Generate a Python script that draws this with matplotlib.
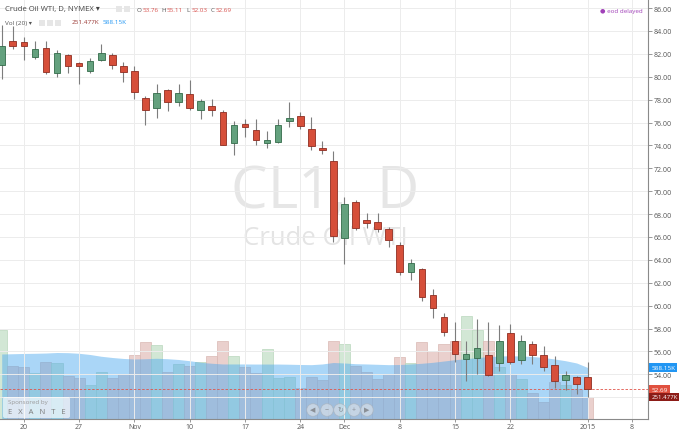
import matplotlib
matplotlib.use('Agg')
import matplotlib.pyplot as plt
from matplotlib.patches import FancyBboxPatch, Circle, Rectangle
from matplotlib.transforms import Affine2D, blended_transform_factory
import numpy as np
import pandas as pd

plt.rcParams['font.family'] = ['Open Sans', 'DejaVu Sans']

# trading days on the chart (Oct 16 2014 .. Jan 8 2015), exchange holidays removed
days = pd.bdate_range('2014-10-16', '2015-01-08')
days = days.drop(pd.to_datetime(['2014-11-27', '2014-12-25', '2015-01-01']))

# daily OHLC, Oct 16 2014 .. Jan 2 2015
opens = [81.0, 83.1, 83.05, 81.75, 82.5, 80.3, 81.9, 81.2, 80.5, 81.5,
         81.9, 80.95, 80.5, 78.15, 77.25, 78.85, 77.75, 78.45, 77.1, 77.4,
         76.9, 74.25, 75.85, 75.35, 74.2, 74.3, 76.15, 76.55, 75.45, 73.75,
         72.6, 65.9, 69.1, 67.5, 67.3, 66.7, 65.3, 62.9, 63.2, 60.95,
         59.05, 56.95, 55.3, 55.4, 55.7, 54.95, 57.6, 55.25, 56.65, 55.7,
         54.85, 53.55, 53.75, 53.76]
highs = [84.5, 84.45, 83.45, 83.15, 83.1, 82.3, 81.95, 81.3, 81.6, 82.85,
         82.05, 81.25, 80.95, 78.35, 79.35, 78.95, 79.35, 79.7, 78.05, 78.05,
         77.1, 76.15, 76.3, 76.3, 75.3, 76.3, 77.75, 76.9, 76.45, 74.35,
         73.5, 69.45, 69.2, 68.1, 68.1, 66.85, 65.55, 64.1, 63.3, 61.5,
         59.4, 58.55, 56.95, 58.85, 58.55, 58.3, 58.4, 57.45, 56.95, 56.45,
         55.6, 54.25, 53.9, 55.11]
lows = [79.8, 82.4, 81.5, 81.55, 80.2, 80.0, 80.3, 79.4, 80.3, 81.4,
        80.65, 79.5, 78.05, 75.8, 76.4, 77.0, 77.4, 77.1, 76.35, 76.6,
        74.0, 73.2, 74.7, 74.05, 73.8, 74.2, 75.6, 75.45, 73.6, 73.25,
        65.6, 63.65, 66.6, 66.75, 66.45, 65.1, 62.7, 62.2, 60.4, 58.9,
        57.35, 55.05, 53.45, 54.05, 53.9, 54.3, 54.9, 54.9, 54.9, 54.3,
        52.85, 52.6, 52.3, 52.03]
closes = [82.7, 82.7, 82.65, 82.4, 80.45, 82.05, 80.9, 80.9, 81.35, 82.1,
          81.05, 80.45, 78.7, 77.1, 78.6, 77.8, 78.6, 77.25, 77.9, 77.1,
          74.05, 75.8, 75.6, 74.5, 74.45, 75.8, 76.4, 75.7, 73.95, 73.6,
          66.05, 68.9, 66.75, 67.25, 66.7, 65.75, 62.95, 63.7, 60.8, 59.8,
          57.7, 55.75, 55.8, 56.3, 53.95, 56.95, 55.1, 56.95, 55.7, 54.6,
          53.45, 53.95, 53.15, 52.69]

# volume and its 20-day average, thousands of contracts
volumes = [1021, 602, 591, 526, 648, 637, 495, 465, 389, 541,
           465, 514, 731, 877, 846, 534, 629, 609, 648, 717,
           888, 717, 591, 526, 800, 465, 477, 351, 477, 446,
           888, 857, 602, 541, 457, 514, 705, 640, 877, 774,
           857, 895, 1181, 1021, 895, 598, 514, 457, 297, 191,
           419, 389, 343, 251.477]
vol_ma = [743, 746, 749, 751, 754, 760, 758, 751, 737, 717,
          703, 692, 686, 689, 694, 689, 680, 666, 648, 637,
          629, 629, 629, 628, 628, 628, 626, 623, 621, 629,
          646, 640, 632, 629, 625, 621, 623, 629, 637, 648,
          663, 678, 689, 703, 712, 720, 723, 720, 714, 703,
          686, 666, 640, 588.15]

tick_dates = ['2014-10-20', '2014-10-27', '2014-11-03', '2014-11-10', '2014-11-17',
              '2014-11-24', '2014-12-01', '2014-12-08', '2014-12-15', '2014-12-22',
              '2015-01-02', '2015-01-08']
tick_labels = ['20', '27', 'Nov', '10', '17', '24', 'Dec', '8', '15', '22', '2015', '8']
price_ticks = np.arange(52, 87, 2)

W, H = 680, 431
fig = plt.figure(figsize=(W / 100, H / 100), dpi=100)
pix = Affine2D().scale(1 / W, -1 / H).translate(0, 1) + fig.transFigure

rect = [0, 11 / H, 648 / W, 420 / H]
ax_vol = fig.add_axes(rect)
ax = fig.add_axes(rect, sharex=ax_vol)
ax.patch.set_visible(False)

x = np.arange(len(opens))
o = np.array(opens); c = np.array(closes)
up = c >= o

# volume panel
vcol = np.where(up, '#d2e7d5', '#ead0cd')
vedge = np.where(up, '#b9d8bd', '#d9b8b4')
ax_vol.bar(x, volumes, width=1.0, color=vcol, edgecolor=vedge, linewidth=0.5)
ax_vol.fill_between(x, 0, vol_ma, color='#4eaaf0', alpha=0.48, lw=0)
ax_vol.set_ylim(0, 4800)
ax_vol.axis('off')

# candles
ax.vlines(x, lows, highs, color='#7d7d7d', lw=0.8, zorder=2)
body_lo = np.minimum(o, c)
body_h = np.maximum(np.abs(c - o), 0.08)
ax.bar(x, body_h, bottom=body_lo, width=0.6,
       color=np.where(up, '#64a17e', '#d64f3a'),
       edgecolor=np.where(up, '#336b4a', '#8f2e22'), linewidth=0.6, zorder=3)

ax.set_xlim(-0.154, 58.45)
ax.set_ylim(50.10, 86.79)

tick_pos = days.get_indexer(pd.to_datetime(tick_dates))
ax.set_xticks(tick_pos, tick_labels)
ax.set_yticks(price_ticks, ['' if p == 52 else f'{p:.2f}' for p in price_ticks])
ax.yaxis.tick_right()
ax.tick_params(axis='y', length=3, width=0.6, color='#888888', labelsize=5,
               labelcolor='#555555', pad=1)
ax.tick_params(axis='x', length=2, width=0.6, color='#888888', labelsize=5,
               labelcolor='#555555', pad=1)
ax.grid(True, color='#ececec', lw=0.7, zorder=0)
ax.set_axisbelow(True)
for s in ['left', 'top']:
    ax.spines[s].set_visible(False)
for s in ['right', 'bottom']:
    ax.spines[s].set_color('#8a8a8a')
    ax.spines[s].set_linewidth(0.8)

# last price line and axis labels
ax.axhline(closes[-1], color='#e0554a', lw=0.6, ls=(0, (3, 2)), zorder=1.5)
vtrans = blended_transform_factory(ax.transAxes, ax_vol.transData)
box = dict(boxstyle='square,pad=0.3', ec='none')
ax.text(1.005, vol_ma[-1], f'{vol_ma[-1]:.2f}K', transform=vtrans, ha='left', va='center',
        fontsize=4.6, color='white', clip_on=False, zorder=6, bbox=dict(box, fc='#2196f3'))
ax.text(1.005, closes[-1], f'{closes[-1]:.2f}', transform=ax.get_yaxis_transform(),
        ha='left', va='center', fontsize=4.6, color='white', clip_on=False, zorder=6,
        bbox=dict(box, fc='#e0513f'))
ax.text(1.005, volumes[-1], f'{volumes[-1]:.3f}K', transform=vtrans, ha='left', va='center',
        fontsize=4.4, color='white', clip_on=False, zorder=7, bbox=dict(box, fc='#8c1c17'))

# watermark
ax.text(0.502, 0.54, 'CL1,  D', transform=ax.transAxes, ha='center', va='center',
        fontsize=42, color='#e6e6e6', zorder=0.5)
ax.text(0.502, 0.433, 'Crude Oil WTI', transform=ax.transAxes, ha='center', va='center',
        fontsize=18.5, color='#e4e4e4', zorder=0.5)

# legend header
fig.text(5, 10, 'Crude Oil WTI, D, NYMEX \u25be', transform=pix, va='center',
         fontsize=5.6, color='#444444')
for bx in [116, 124]:
    fig.add_artist(Rectangle((bx, 7), 6, 6, transform=pix, fc='#e6e6e6', ec='none'))
ohlc = [('O', opens[-1]), ('H', highs[-1]), ('L', lows[-1]), ('C', closes[-1])]
xx = 137
for k, v in ohlc:
    fig.text(xx, 10.5, k, transform=pix, va='center', fontsize=4.5, color='#555555')
    fig.text(xx + 5.5, 10.5, f'{v:.2f}', transform=pix, va='center', fontsize=4.5,
             color='#d9534f')
    xx += 24.5

fig.text(5, 23, 'Vol (20) \u25be', transform=pix, va='center', fontsize=4.6, color='#555555')
for bx in [39, 47, 55]:
    fig.add_artist(Rectangle((bx, 20.5), 6, 6, transform=pix, fc='#e6e6e6', ec='none'))
fig.text(72, 23, f'{volumes[-1]:.3f}K', transform=pix, va='center', fontsize=4.6, color='#9b3a36')
fig.text(103, 23, f'{vol_ma[-1]:.2f}K', transform=pix, va='center', fontsize=4.6, color='#2196f3')

fig.text(643, 11, '\u25cf eod delayed', transform=pix, ha='right', va='center',
         fontsize=4.5, color='#a040b8')

# sponsor box
fig.add_artist(FancyBboxPatch((3, 398), 67, 21, boxstyle='round,pad=0,rounding_size=2',
                              transform=pix, fc='white', ec='none', alpha=0.65, zorder=8))
fig.text(8, 403, 'Sponsored by', transform=pix, va='center', fontsize=4.5,
         color='#9a9a9a', zorder=9)
fig.text(8, 412.5, 'E   X   A   N   T   E', transform=pix, va='center', fontsize=5.5,
         color='#7a7a7a', zorder=9)

# navigation buttons
for bx, sym in zip([313, 327, 340, 354, 367], ['\u25c0', '\u2212', '\u21bb', '+', '\u25b6']):
    fig.add_artist(Circle((bx, 411), 6.3, transform=pix, fc='#dfe4ea', ec='#a9b0b8',
                          lw=0.6, alpha=0.6, zorder=8))
    fig.text(bx, 411, sym, transform=pix, ha='center', va='center', fontsize=5,
             color='#8a8f96', zorder=9)

fig.savefig('out.png', dpi=100)
